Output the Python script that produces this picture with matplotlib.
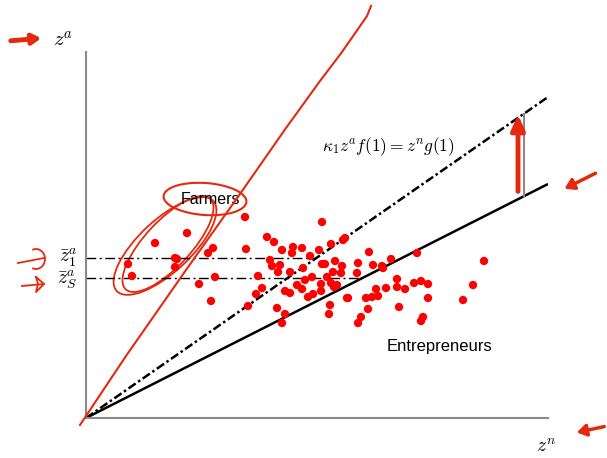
import matplotlib.pyplot as plt
import numpy as np
from matplotlib.patches import Ellipse

plt.rcParams['mathtext.fontset'] = 'cm'

# scatter of agents (z^n, z^a), units roughly = pixels from origin
zn = [159, 236, 101, 69, 181, 188, 196, 207, 206, 216, 233, 245, 259, 257, 127, 122,
      160, 89, 91, 42, 89, 46, 184, 186, 194, 192, 204, 217, 224, 236, 239, 249,
      256, 247, 255, 129, 113, 172, 176, 170, 162, 125, 199, 204, 211, 216, 219,
      226, 235, 235, 241, 245, 251, 248, 227, 222, 191, 199, 196, 244, 243, 261,
      283, 331, 305, 398, 287, 272, 296, 297, 271, 290, 300, 311, 311, 319, 328,
      335, 342, 387, 262, 280, 286, 292, 342, 377, 313, 282, 275, 272, 337, 335]
za = [201, 196, 185, 175, 181, 176, 168, 171, 165, 170, 168, 174, 180, 178, 170, 165,
      169, 160, 159, 154, 151, 142, 158, 152, 153, 146, 146, 150, 162, 154, 154, 157,
      152, 146, 145, 141, 134, 142, 130, 124, 112, 117, 127, 125, 133, 129, 138,
      141, 134, 127, 141, 135, 133, 131, 124, 121, 110, 104, 95, 113, 104, 120,
      166, 165, 159, 157, 153, 155, 152, 150, 145, 129, 130, 139, 131, 129, 135,
      137, 134, 133, 120, 120, 121, 122, 120, 118, 111, 109, 101, 95, 101, 97]

x_max = 462
y_max = 366
slope_solid = 234 / 462      # z^n g(1) line
slope_dashed = 321 / 462     # kappa_1 z^a f(1) = z^n g(1)
z1_bar = 160
zS_bar = 140

# hand-drawn red annotations
red_curve_x = [-6, 40, 100, 154, 200, 234, 256, 272, 281, 285]
red_curve_y = [-7, 62, 148, 224, 290, 337, 366, 389, 402, 412]

red = '#e5290e'

fig = plt.figure(figsize=(6.07, 4.58), dpi=100)
ax = fig.add_axes([86 / 607, 40 / 458, 462 / 607, 366 / 458])
ax.set_xlim(0, x_max)
ax.set_ylim(0, y_max)
for s in ['top', 'right']:
    ax.spines[s].set_visible(False)
for s in ['left', 'bottom']:
    ax.spines[s].set_color('#8a8a8a')
    ax.spines[s].set_linewidth(1.5)
ax.set_xticks([])
ax.set_yticks([])

xs = np.array([0, x_max])
ax.plot(xs, slope_solid * xs, color='black', lw=1.8, solid_capstyle='butt')
ax.plot(xs, slope_dashed * xs, color='black', lw=1.8, linestyle=(0, (3.5, 1.2, 1, 1.2)))

# threshold lines
ax.plot([0, z1_bar / slope_dashed], [z1_bar, z1_bar], color='black', lw=1,
        linestyle=(0, (7, 2.5, 1.5, 2.5)))
ax.plot([0, zS_bar / slope_solid], [zS_bar, zS_bar], color='black', lw=1,
        linestyle=(0, (7, 2.5, 1.5, 2.5)))

ax.scatter(zn, za, s=36, color='#ff0000', edgecolors='none', zorder=3)

ax.text(-8, z1_bar, r'$\bar{z}^a_1$', fontsize=14, ha='right', va='center')
ax.text(-8, zS_bar - 2, r'$\bar{z}^a_S$', fontsize=14, ha='right', va='center')
ax.text(-23, 378, r'$z^a$', fontsize=15, ha='center', va='center', clip_on=False)
ax.text(460, -28, r'$z^n$', fontsize=14, ha='center', va='center', clip_on=False)
ax.text(302, 271, r'$\kappa_1 z^a f(1) = z^n g(1)$', fontsize=12.5, ha='center', va='center')
ax.text(124, 218, 'Farmers', fontsize=11.5, family='Liberation Sans', ha='center', va='center')
ax.text(354, 71, 'Entrepreneurs', fontsize=12, family='Liberation Sans', ha='center', va='center')

# red hand-drawn marks
ax.plot(red_curve_x, red_curve_y, color=red, lw=1.5, clip_on=False, zorder=4)

ax.add_patch(Ellipse((119, 219), 83, 32, angle=-4, fill=False, ec=red, lw=1.5, clip_on=False))
ax.add_patch(Ellipse((79, 172), 132, 52, angle=43, fill=False, ec=red, lw=1.3, clip_on=False))
ax.add_patch(Ellipse((82, 174), 124, 46, angle=47, fill=False, ec=red, lw=1.3, clip_on=False))

# big arrow showing the gap between the two lines
x_arrow = 438
ax.plot([x_arrow, x_arrow], [slope_solid * x_arrow, slope_dashed * x_arrow], color='#8a8a8a', lw=1.5)
ax.annotate('', xy=(x_arrow - 6, slope_dashed * x_arrow + 2), xytext=(x_arrow - 6, slope_solid * x_arrow + 2),
            arrowprops=dict(arrowstyle='-|>,head_width=0.4,head_length=0.9', color=red, lw=3.5))

# pointer arrows round the axes
ax.annotate('', xy=(-42, 380), xytext=(-78, 377), annotation_clip=False,
            arrowprops=dict(arrowstyle='-|>,head_width=0.3,head_length=0.5', color=red, lw=3.5))
ax.annotate('', xy=(476, 228), xytext=(512, 246), annotation_clip=False,
            arrowprops=dict(arrowstyle='-|>,head_width=0.35,head_length=0.55', color=red, lw=2.5))
ax.annotate('', xy=(488, -15), xytext=(521, -8), annotation_clip=False,
            arrowprops=dict(arrowstyle='-|>,head_width=0.35,head_length=0.55', color=red, lw=2.5))

# hooks pointing at the two thresholds
ang = np.linspace(1.9, -1.9, 30)
ax.plot([-68, -42], [155, 160], color=red, lw=1.3, clip_on=False)
ax.plot(-50 + 9 * np.cos(ang), 159 + 10 * np.sin(ang), color=red, lw=1.3, clip_on=False)
ax.plot([-64, -42], [132, 134], color=red, lw=1.3, clip_on=False)
ax.plot([-50, -42, -50, -48, -50], [141, 134, 126, 134, 141], color=red, lw=1.3, clip_on=False)

fig.savefig('out.png', dpi=100)
